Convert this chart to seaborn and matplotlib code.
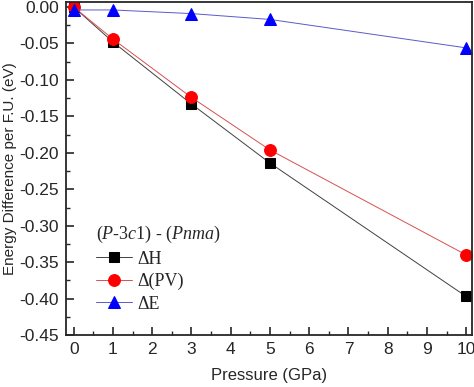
import matplotlib
matplotlib.use("Agg")
import matplotlib.pyplot as plt
import seaborn as sns
import pandas as pd
from matplotlib.ticker import MultipleLocator

pressure = [0, 1, 3, 5, 10]
dH = [0.000, -0.048, -0.133, -0.214, -0.397]
dPV = [0.000, -0.044, -0.124, -0.196, -0.340]
dE = [-0.004, -0.004, -0.009, -0.017, -0.056]

labels = ["\u0394H", "\u0394(PV)", "\u0394E"]

sns.set_style("ticks")
plt.rcParams['font.family'] = ['Liberation Sans', 'DejaVu Sans']
plt.rcParams['mathtext.fontset'] = 'custom'
plt.rcParams['mathtext.rm'] = 'Liberation Serif'
plt.rcParams['mathtext.it'] = 'Liberation Serif:italic'

df = pd.DataFrame({"P": pressure * 3,
                   "val": dH + dPV + dE,
                   "kind": [labels[0]] * 5 + [labels[1]] * 5 + [labels[2]] * 5})

fig = plt.figure(figsize=(4.74, 3.87), dpi=100)
ax = fig.add_axes([0.139, 0.134, 0.857, 0.861])

colors = {labels[0]: "black", labels[1]: "red", labels[2]: "blue"}
linecol = {labels[0]: "#404040", labels[1]: "#d85050", labels[2]: "#5a5ac8"}
marks = {labels[0]: "s", labels[1]: "o", labels[2]: "^"}
msize = {labels[0]: 7, labels[1]: 8.5, labels[2]: 9}

for k in labels:
    sub = df[df["kind"] == k]
    sns.lineplot(data=sub, x="P", y="val", ax=ax, color=linecol[k], lw=0.7,
                 marker=marks[k], markersize=msize[k], markerfacecolor=colors[k],
                 markeredgecolor=colors[k], label=k)

ax.set_xlim(-0.2, 10.15)
ax.set_ylim(-0.45, 0.007)
ax.xaxis.set_major_locator(MultipleLocator(1))
ax.xaxis.set_minor_locator(MultipleLocator(0.5))
ax.yaxis.set_major_locator(MultipleLocator(0.05))
ax.yaxis.set_minor_locator(MultipleLocator(0.025))
ax.yaxis.set_major_formatter(matplotlib.ticker.FormatStrFormatter('%.2f'))
ax.tick_params(which='both', direction='in', top=False, right=False, labelsize=12.5)
ax.tick_params(which='major', length=6, width=1.2, pad=5)
ax.tick_params(which='minor', length=3, width=1)
for s in ax.spines.values():
    s.set_linewidth(1.3)
ax.set_xlabel("Pressure (GPa)", fontsize=12, labelpad=8)
ax.set_ylabel("Energy Difference per F.U. (eV)", fontsize=11)
ax.yaxis.set_label_coords(-0.12, 0.5)

leg = ax.legend(title="($P$-$3c$1) - ($Pnma$)", loc="upper left",
                bbox_to_anchor=(0.057, 0.355), frameon=False,
                prop={'family': 'Liberation Serif', 'size': 13},
                handlelength=2.0, handletextpad=0.3, labelspacing=0.3,
                borderaxespad=0)
leg.get_title().set_fontfamily('Liberation Serif')
leg.get_title().set_fontsize(13)
leg._legend_box.align = "left"

fig.savefig("out.png", dpi=100)
